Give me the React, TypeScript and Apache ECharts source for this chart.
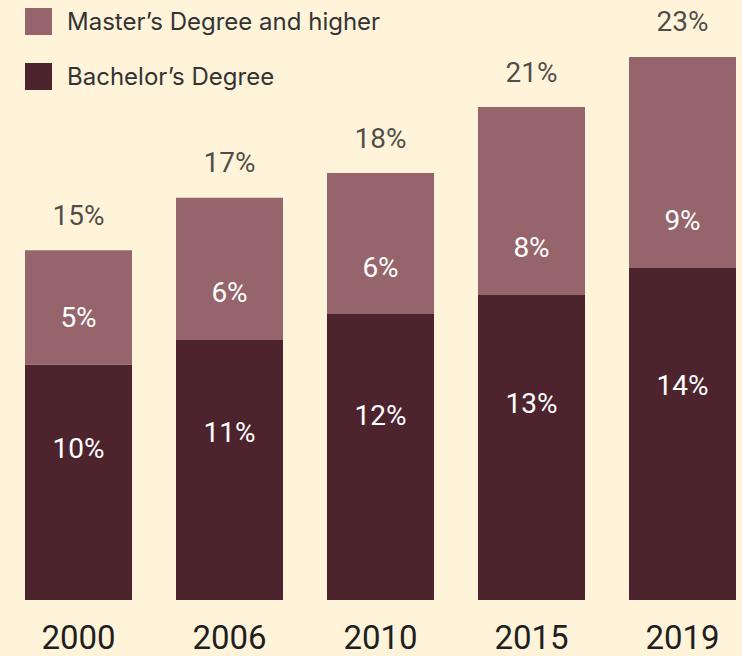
import React, { useEffect, useRef } from "react";
import * as echarts from "echarts";

const years = ["2000", "2006", "2010", "2015", "2019"];
const bachelor = [10.1, 11.15, 12.26, 13.08, 14.24];
const master = [4.9, 6.1, 6.05, 8.06, 9.05];
const totalLabels = ["15%", "17%", "18%", "21%", "23%"];
const seriesNames = ["Master’s Degree and higher", "Bachelor’s Degree"];

const BG = "#FFF3DA";
const DARK = "#4D232D";
const LIGHT = "#96656B";
const TEXT = "#1F1F1F";
const NUM_FONT = "Roboto, sans-serif";

export default function App() {
  const ref = useRef<HTMLDivElement>(null);
  useEffect(() => {
    if (!ref.current) return;
    const chart = echarts.init(ref.current, null, { renderer: "svg" });
    const totals = bachelor.map((b, i) => b + master[i]);
    chart.setOption({
      animation: false,
      backgroundColor: BG,
      legend: {
        data: seriesNames,
        orient: "vertical",
        left: 25,
        top: 8,
        padding: 0,
        itemWidth: 27,
        itemHeight: 27,
        itemGap: 28,
        icon: "rect",
        selectedMode: false,
        textStyle: {
          fontFamily: "Inter, sans-serif",
          fontSize: 24,
          color: "#333333",
          padding: [0, 0, 0, 10],
        },
      },
      grid: { left: 3, top: 17, width: 755, height: 583, outerBoundsMode: "none", containLabel: false },
      xAxis: {
        type: "category",
        data: years,
        axisLine: { show: false },
        axisTick: { show: false },
        axisLabel: {
          fontFamily: NUM_FONT,
          fontSize: 33,
          color: TEXT,
          margin: 21,
        },
      },
      yAxis: { type: "value", min: 0, max: 25, show: false, splitLine: { show: false } },
      series: [
        {
          name: seriesNames[1],
          type: "bar",
          stack: "total",
          barWidth: 107,
          data: bachelor,
          itemStyle: { color: DARK },
          label: {
            show: true,
            position: ["50%", "35.5%"],
            align: "center",
            verticalAlign: "middle",
            color: "#FFFFFF",
            fontFamily: NUM_FONT,
            fontSize: 28,
            formatter: (p: any) => Math.round(p.value) + "%",
          },
        },
        {
          name: seriesNames[0],
          type: "bar",
          stack: "total",
          barWidth: 107,
          data: master,
          itemStyle: { color: LIGHT },
          label: {
            show: true,
            position: "insideBottom",
            distance: 33,
            color: "#FFFFFF",
            fontFamily: NUM_FONT,
            fontSize: 28,
            formatter: (p: any) => Math.round(p.value) + "%",
          },
        },
        {
          name: "total",
          type: "scatter",
          symbolSize: 0,
          data: totals,
          label: {
            show: true,
            position: "top",
            distance: 21,
            color: TEXT,
            fontFamily: NUM_FONT,
            fontSize: 28,
            formatter: (p: any) => totalLabels[p.dataIndex],
          },
          silent: true,
        },
      ],
    });
    return () => chart.dispose();
  }, []);
  return <div ref={ref} style={{ width: 742, height: 656, position: "fixed", left: 0, top: 0 }} />;
}
